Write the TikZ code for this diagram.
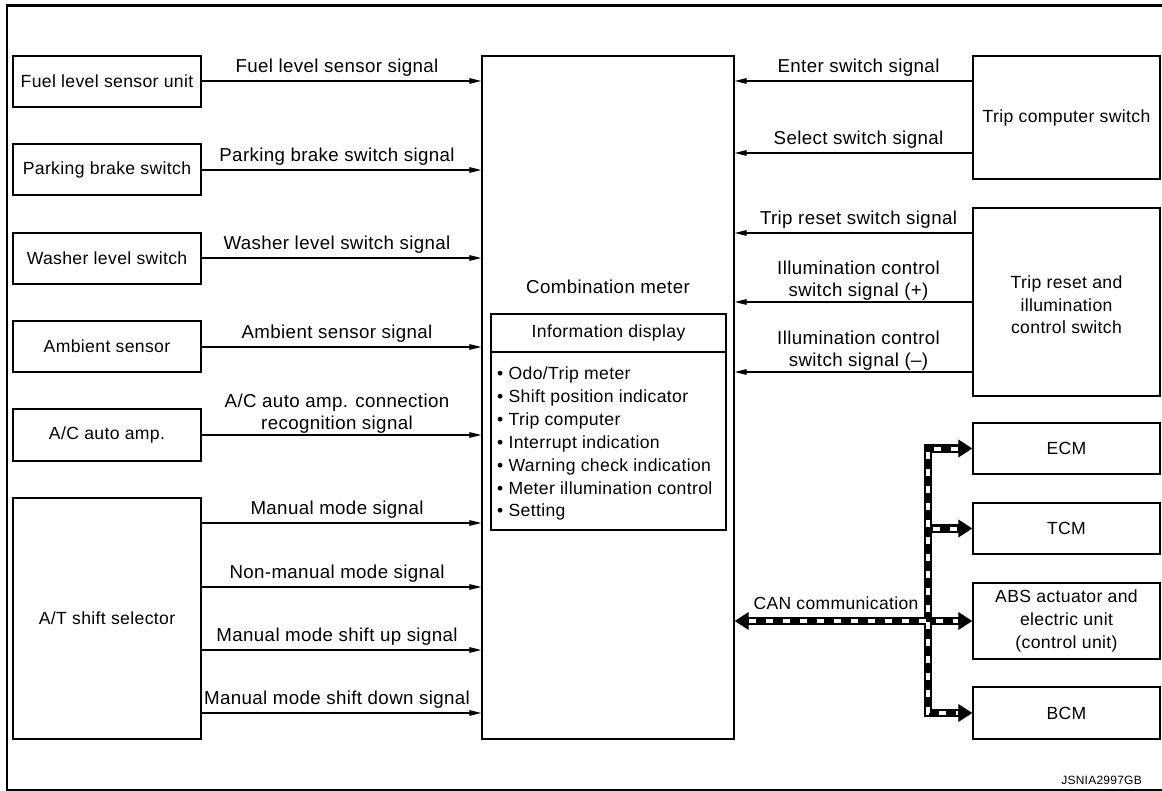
\documentclass[tikz,border=0pt]{standalone}
\usepackage{fontspec}
\setmainfont{Liberation Sans}[LetterSpace=2]
\usetikzlibrary{arrows.meta}
\newcommand\fsl{\fontsize{18.7}{22.7}\selectfont}
\newcommand\fsb{\fontsize{17.6}{22.7}\selectfont}
\begin{document}
\begin{tikzpicture}[x=1pt,y=-1pt,
  box/.style={draw, line width=1.2pt, inner sep=1pt, align=center, font=\fsb, minimum width=188pt},
  rbox/.style={box, minimum width=187pt},
  sig/.style={line width=1.1pt, -{Triangle[length=12pt,width=5.5pt]}},
  lbl/.style={font=\fsl, align=center, inner sep=0pt, text depth=0pt, anchor=south},
  item/.style={font=\fsb, inner sep=0pt, anchor=base west},
  busb/.style={line width=8.5pt, black, >={Triangle[length=14pt,width=17pt]}},
  busw/.style={line width=4pt, white, dash pattern=on 7pt off 10pt}]
\useasboundingbox (0,0) rectangle (1162,791);
% frame
\draw[line width=2.6pt] (1162,5.3) -- (6.8,5.3) -- (6.8,790) -- (1162,790);
% combination meter
\node[draw, line width=1.2pt, minimum width=252pt, minimum height=683pt, inner sep=0pt] (cm) at (608,397.5) {};
\node[font=\fsl, inner sep=0pt] (cmt) at (608,287) {Combination meter};
\node[draw, line width=1.2pt, minimum width=235pt, minimum height=216pt, inner sep=0pt] (info) at (608.5,422) {};
\coordinate (dv) at (0,352);
\draw[line width=1.2pt] (info.west |- dv) -- (info.east |- dv);
\node[font=\fsb, inner sep=0pt] (infot) at (608.5,333) {Information display};
\node[item] (i1) at (497,380.0) {• Odo/Trip meter};
\node[item] (i2) at (497,402.8) {• Shift position indicator};
\node[item] (i3) at (497,425.6) {• Trip computer};
\node[item] (i4) at (497,448.4) {• Interrupt indication};
\node[item] (i5) at (497,471.2) {• Warning check indication};
\node[item] (i6) at (497,494.0) {• Meter illumination control};
\node[item] (i7) at (497,516.8) {• Setting};
% left boxes
\node[box, minimum height=51pt] (fuel) at (107,81.5) {Fuel level sensor unit};
\node[box, minimum height=51pt] (park) at (107,169.5) {Parking brake switch};
\node[box, minimum height=51pt] (wash) at (107,258.5) {Washer level switch};
\node[box, minimum height=51pt] (amb) at (107,346.5) {Ambient sensor};
\node[box, minimum height=52pt] (ac) at (107,435) {A/C auto amp.};
\node[box, minimum height=241pt] (at) at (107,618.5) {A/T shift selector};
% right boxes
\node[rbox, minimum height=123pt] (tcs) at (1066.5,117.5) {Trip computer switch};
\node[rbox, minimum height=188pt] (trs) at (1066.5,302) {};
\node[font=\fsb, align=center, inner sep=0pt] (trst) at (1066.5,305) {Trip reset and\\illumination\\control switch};
\node[rbox, minimum height=51pt] (ecm) at (1066.5,448.5) {ECM};
\node[rbox, minimum height=51pt] (tcm) at (1066.5,528.5) {TCM};
\node[rbox, minimum height=76pt] (abs) at (1066.5,621) {ABS actuator and\\electric unit\\(control unit)};
\node[rbox, minimum height=52pt] (bcm) at (1066.5,713) {BCM};
% left signals
\coordinate (y1) at (0,81);  \coordinate (y2) at (0,170); \coordinate (y3) at (0,258);
\coordinate (y4) at (0,347); \coordinate (y5) at (0,435); \coordinate (y6) at (0,523);
\coordinate (y7) at (0,587); \coordinate (y8) at (0,650); \coordinate (y9) at (0,713);
\draw[sig] (fuel.east |- y1) -- (cm.west |- y1);
\draw[sig] (park.east |- y2) -- (cm.west |- y2);
\draw[sig] (wash.east |- y3) -- (cm.west |- y3);
\draw[sig] (amb.east |- y4) -- (cm.west |- y4);
\draw[sig] (ac.east |- y5) -- (cm.west |- y5);
\draw[sig] (at.east |- y6) -- (cm.west |- y6);
\draw[sig] (at.east |- y7) -- (cm.west |- y7);
\draw[sig] (at.east |- y8) -- (cm.west |- y8);
\draw[sig] (at.east |- y9) -- (cm.west |- y9);
\node[lbl] (l1) at (337,73) {Fuel level sensor signal};
\node[lbl] (l2) at (337,162) {Parking brake switch signal};
\node[lbl] (l3) at (337,250) {Washer level switch signal};
\node[lbl] (l4) at (337,339) {Ambient sensor signal};
\node[lbl] (l5) at (337,430) {A/C auto amp. connection\\recognition signal};
\node[lbl] (l6) at (337,515) {Manual mode signal};
\node[lbl] (l7) at (337,579) {Non-manual mode signal};
\node[lbl] (l8) at (337,642) {Manual mode shift up signal};
\node[lbl] (l9) at (337,705) {Manual mode shift down signal};
% right signals
\coordinate (r1) at (0,81);  \coordinate (r2) at (0,153); \coordinate (r3) at (0,233);
\coordinate (r4) at (0,302); \coordinate (r5) at (0,372);
\draw[sig] (tcs.west |- r1) -- (cm.east |- r1);
\draw[sig] (tcs.west |- r2) -- (cm.east |- r2);
\draw[sig] (trs.west |- r3) -- (cm.east |- r3);
\draw[sig] (trs.west |- r4) -- (cm.east |- r4);
\draw[sig] (trs.west |- r5) -- (cm.east |- r5);
\node[lbl] (m1) at (858.5,73) {Enter switch signal};
\node[lbl] (m2) at (858.5,145) {Select switch signal};
\node[lbl] (m3) at (858.5,225) {Trip reset switch signal};
\node[lbl] (m4) at (858.5,297) {Illumination control\\switch signal (+)};
\node[lbl] (m5) at (858.5,367) {Illumination control\\switch signal (–)};
% CAN bus
\coordinate (bt) at (928,448.5);
\coordinate (bb) at (928,713);
\draw[busb, <->] (ecm.west) -- (bt) -- (bb) -- (bcm.west);
\draw[busb, ->] (bt |- tcm.west) -- (tcm.west);
\draw[busb, <->] (cm.east |- abs.west) -- (abs.west);
\draw[busw, shorten <=14pt, shorten >=14pt] (ecm.west) -- (bt) -- (bb) -- (bcm.west);
\draw[busw, shorten <=5pt, shorten >=14pt] (bt |- tcm.west) -- (tcm.west);
\draw[busw, shorten <=14pt, shorten >=14pt] (cm.east |- abs.west) -- (abs.west);
\node[lbl, font=\fontsize{17.5}{21}\selectfont] (can) at (836,610) {CAN communication};
\node[font=\fontsize{12}{14}\selectfont, inner sep=0pt, anchor=base east] (code) at (1142,784) {JSNIA2997GB};
\end{tikzpicture}
\end{document}
